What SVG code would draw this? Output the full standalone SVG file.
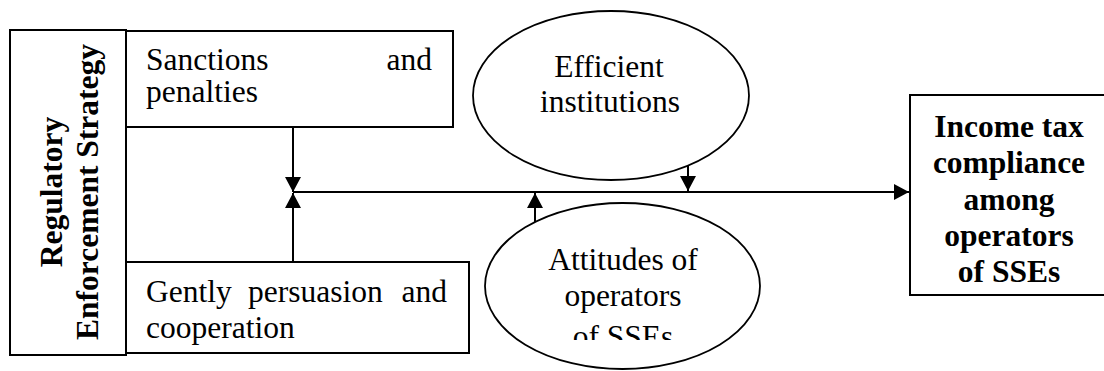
<svg xmlns="http://www.w3.org/2000/svg" width="1104" height="371" viewBox="0 0 1104 371">
<style>
.box{fill:#fff;stroke:#000;stroke-width:2}
.ell{fill:#fff;stroke:#000;stroke-width:1.8}
.t{font-family:"Liberation Serif","Times New Roman",serif;font-size:31.5px;fill:#000}
.b{font-weight:bold}
.c{text-anchor:middle}
.ln{stroke:#000;stroke-width:2;fill:none}
</style>
<defs>
<marker id="ah" markerUnits="userSpaceOnUse" markerWidth="16" markerHeight="16" viewBox="0 0 15 16" refX="15" refY="8" orient="auto">
<path d="M0,0 L15,8 L0,16 Z" fill="#000"/>
</marker>
<clipPath id="clipAtt"><rect x="470" y="200" width="300" height="140"/></clipPath>
</defs>
<g id="strategy">
<rect class="box" x="10" y="30" width="116" height="325"/>
<text class="t b c" transform="translate(62,192) rotate(-90)">Regulatory</text>
<text class="t b c" transform="translate(98,192) rotate(-90)">Enforcement Strategy</text>
</g>
<g id="sanctions">
<rect class="box" x="126" y="31" width="327" height="96"/>
<text class="t" x="146" y="70">Sanctions</text>
<text class="t" x="432" y="70" text-anchor="end">and</text>
<text class="t" x="146" y="102">penalties</text>
</g>
<g id="persuasion">
<rect class="box" x="126" y="262" width="343" height="91"/>
<text class="t" x="146" y="302">Gently</text>
<text class="t" x="248" y="302">persuasion</text>
<text class="t" x="447" y="302" text-anchor="end">and</text>
<text class="t" x="146" y="338">cooperation</text>
</g>
<g id="institutions">
<ellipse class="ell" cx="611" cy="95.5" rx="138" ry="84.5"/>
<text class="t c" x="609" y="77">Efficient</text>
<text class="t c" x="610" y="112">institutions</text>
</g>
<g id="attitudes">
<ellipse class="ell" cx="622.5" cy="286" rx="137.5" ry="83"/>
<g clip-path="url(#clipAtt)">
<text class="t c" x="623" y="270">Attitudes of</text>
<text class="t c" x="623" y="306">operators</text>
<text class="t c" x="623" y="347">of SSEs</text>
</g>
</g>
<g id="compliance">
<rect class="box" x="910" y="95" width="200" height="200"/>
<text class="t b c" x="1009" y="137">Income tax</text>
<text class="t b c" x="1009" y="173">compliance</text>
<text class="t b c" x="1009" y="210">among</text>
<text class="t b c" x="1009" y="246">operators</text>
<text class="t b c" x="1009" y="282">of SSEs</text>
</g>
<g id="connectors">
<line class="ln" x1="293" y1="192" x2="909" y2="192" marker-end="url(#ah)"/>
<line class="ln" x1="293" y1="127" x2="293" y2="192" marker-end="url(#ah)"/>
<line class="ln" x1="293" y1="262" x2="293" y2="193" marker-end="url(#ah)"/>
<line class="ln" x1="688" y1="165" x2="688" y2="191" marker-end="url(#ah)"/>
<line class="ln" x1="535" y1="222" x2="535" y2="193" marker-end="url(#ah)"/>
</g>
</svg>
